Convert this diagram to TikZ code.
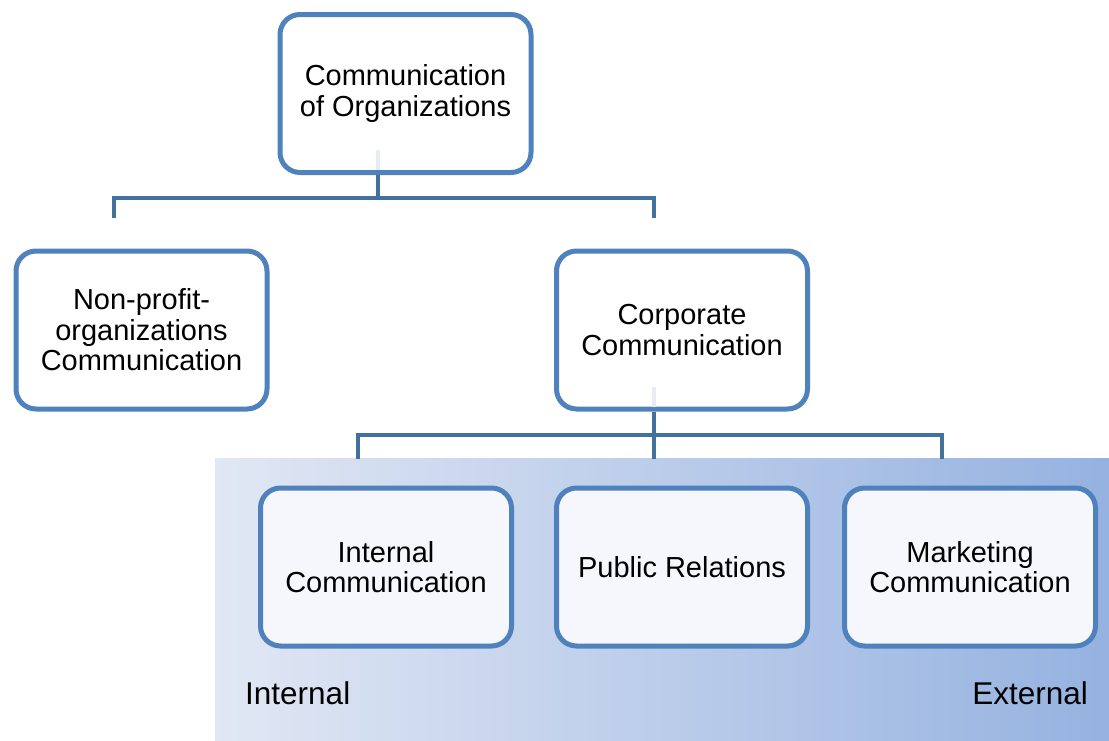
\documentclass[tikz,border=0pt]{standalone}
\usepackage{fontspec}
\setmainfont{Liberation Sans}
\usetikzlibrary{positioning}

\definecolor{boxblue}{HTML}{4F81BD}
\definecolor{lineblue}{HTML}{41719C}
\definecolor{boxfill}{HTML}{F5F7FC}
\definecolor{faintline}{HTML}{E6ECF4}
\definecolor{shadeleft}{HTML}{E1E7F4}
\definecolor{shaderight}{HTML}{95B2E0}

\begin{document}
\begin{tikzpicture}[x=1pt, y=-1pt,
		box/.style={draw=boxblue, line width=5pt, rounded corners=20pt, fill=white, align=center, minimum width=251pt, minimum height=158pt, font=\fontsize{29}{30.5}\selectfont},
		subbox/.style={box, fill=boxfill},
		conn/.style={draw=lineblue, line width=4pt},
		side/.style={inner sep=0pt, font=\fontsize{31.5}{34}\selectfont}
	]
		\useasboundingbox (0,0) rectangle (1109,740);

		% internal / external band
		\shade[left color=shadeleft, right color=shaderight] (215,458) rectangle (1109,740);

		\node[box] (top) at (405.5,93.5) {Communication\\of Organizations};
		\node[box] (npo) at (141.5,330) {Non-profit-\\organizations\\Communication};
		\node[box] (corp) at (682,330) {Corporate\\Communication};
		\node[subbox, below=74pt of corp] (pr) {Public Relations};
		\node[subbox, left=40pt of pr] (int) {Internal\\Communication};
		\node[subbox, right=32pt of pr] (mkt) {Marketing\\Communication};

		\node[side, anchor=west] (inlbl) at (245,693) {Internal};
		\node[side, anchor=east] (exlbl) at (1088,693) {External};

		% first level
		\draw[faintline, line width=4pt] ([xshift=-28pt,yshift=5pt]top.south) -- ++(0,-20);
		\draw[conn] ([xshift=-28pt]top.south) -- ++(0,22.5) coordinate (f1);
		\coordinate (d1) at ([xshift=-28pt,yshift=31pt]npo.north);
		\coordinate (d2) at ([xshift=-28pt,yshift=31pt]corp.north);
		\draw[conn] (d1) |- (f1) -| (d2);

		% second level
		\draw[faintline, line width=4pt] ([xshift=-28pt,yshift=5pt]corp.south) -- ++(0,-20);
		\coordinate (d3) at ([xshift=-28pt,yshift=27pt]int.north);
		\coordinate (d4) at ([xshift=-28pt,yshift=27pt]pr.north);
		\coordinate (d5) at ([xshift=-28pt,yshift=27pt]mkt.north);
		\draw[conn] ([xshift=-28pt]corp.south) -- (d4);
		\draw[conn] (d3) |- ([xshift=-28pt,yshift=-23.5pt]corp.south) -| (d5);
	\end{tikzpicture}
\end{document}
